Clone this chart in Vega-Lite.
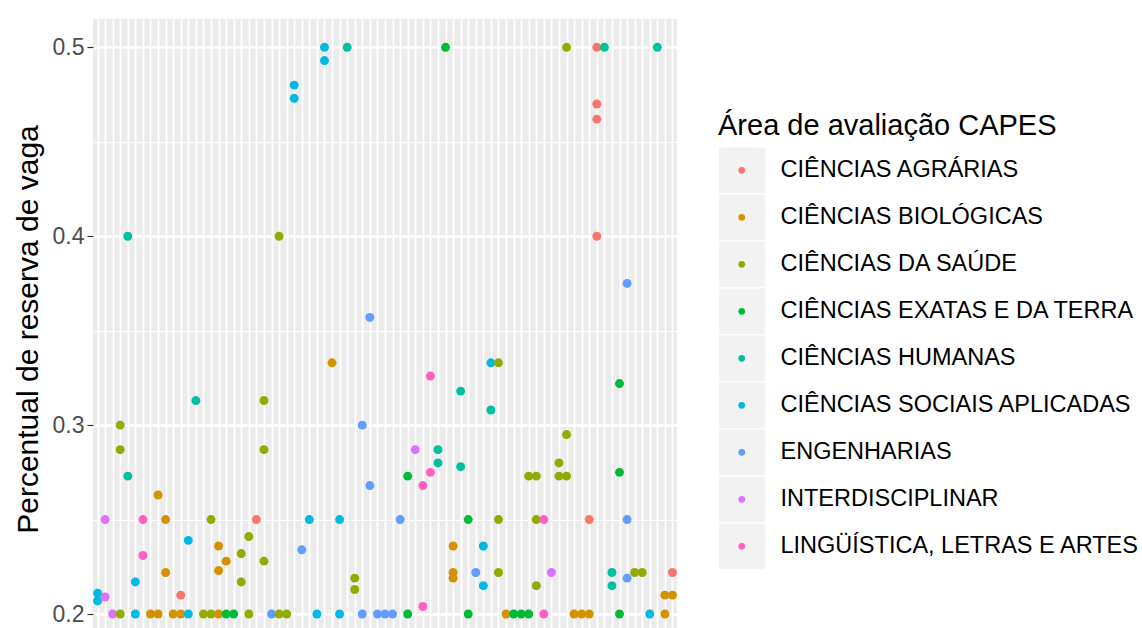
{
  "$schema": "https://vega.github.io/schema/vega-lite/v6.json",
  "width": 584,
  "height": 609,
  "autosize": {"type": "none"},
  "padding": {"left": 93, "top": 19, "right": 465, "bottom": 0},
  "background": "white",
  "config": {
    "view": {"fill": "#EBEBEB", "stroke": null},
    "font": "Liberation Sans",
    "legend": {"padding": 0}
  },
  "datasets": {
    "keys": [
      {"area": "CIÊNCIAS AGRÁRIAS"}, {"area": "CIÊNCIAS BIOLÓGICAS"}, {"area": "CIÊNCIAS DA SAÚDE"},
      {"area": "CIÊNCIAS EXATAS E DA TERRA"}, {"area": "CIÊNCIAS HUMANAS"}, {"area": "CIÊNCIAS SOCIAIS APLICADAS"},
      {"area": "ENGENHARIAS"}, {"area": "INTERDISCIPLINAR"}, {"area": "LINGÜÍSTICA, LETRAS E ARTES"}
    ],
    "pts": [
      {"x": 1, "y": 0.211, "area": "CIÊNCIAS SOCIAIS APLICADAS"},
      {"x": 1, "y": 0.207, "area": "CIÊNCIAS SOCIAIS APLICADAS"},
      {"x": 2, "y": 0.25, "area": "INTERDISCIPLINAR"},
      {"x": 2, "y": 0.209, "area": "INTERDISCIPLINAR"},
      {"x": 3, "y": 0.2, "area": "INTERDISCIPLINAR"},
      {"x": 4, "y": 0.3, "area": "CIÊNCIAS DA SAÚDE"},
      {"x": 4, "y": 0.287, "area": "CIÊNCIAS DA SAÚDE"},
      {"x": 4, "y": 0.2, "area": "CIÊNCIAS DA SAÚDE"},
      {"x": 5, "y": 0.4, "area": "CIÊNCIAS HUMANAS"},
      {"x": 5, "y": 0.273, "area": "CIÊNCIAS HUMANAS"},
      {"x": 6, "y": 0.217, "area": "CIÊNCIAS SOCIAIS APLICADAS"},
      {"x": 6, "y": 0.2, "area": "CIÊNCIAS SOCIAIS APLICADAS"},
      {"x": 7, "y": 0.25, "area": "LINGÜÍSTICA, LETRAS E ARTES"},
      {"x": 7, "y": 0.231, "area": "LINGÜÍSTICA, LETRAS E ARTES"},
      {"x": 8, "y": 0.2, "area": "CIÊNCIAS BIOLÓGICAS"},
      {"x": 9, "y": 0.263, "area": "CIÊNCIAS BIOLÓGICAS"},
      {"x": 9, "y": 0.2, "area": "CIÊNCIAS BIOLÓGICAS"},
      {"x": 10, "y": 0.25, "area": "CIÊNCIAS BIOLÓGICAS"},
      {"x": 10, "y": 0.222, "area": "CIÊNCIAS BIOLÓGICAS"},
      {"x": 11, "y": 0.2, "area": "CIÊNCIAS BIOLÓGICAS"},
      {"x": 12, "y": 0.21, "area": "CIÊNCIAS AGRÁRIAS"},
      {"x": 12, "y": 0.2, "area": "CIÊNCIAS BIOLÓGICAS"},
      {"x": 13, "y": 0.239, "area": "CIÊNCIAS SOCIAIS APLICADAS"},
      {"x": 13, "y": 0.2, "area": "CIÊNCIAS SOCIAIS APLICADAS"},
      {"x": 14, "y": 0.313, "area": "CIÊNCIAS HUMANAS"},
      {"x": 15, "y": 0.2, "area": "CIÊNCIAS DA SAÚDE"},
      {"x": 16, "y": 0.25, "area": "CIÊNCIAS DA SAÚDE"},
      {"x": 16, "y": 0.2, "area": "CIÊNCIAS DA SAÚDE"},
      {"x": 17, "y": 0.236, "area": "CIÊNCIAS BIOLÓGICAS"},
      {"x": 17, "y": 0.223, "area": "CIÊNCIAS BIOLÓGICAS"},
      {"x": 17, "y": 0.2, "area": "CIÊNCIAS BIOLÓGICAS"},
      {"x": 18, "y": 0.228, "area": "CIÊNCIAS BIOLÓGICAS"},
      {"x": 18, "y": 0.2, "area": "CIÊNCIAS EXATAS E DA TERRA"},
      {"x": 19, "y": 0.2, "area": "CIÊNCIAS EXATAS E DA TERRA"},
      {"x": 20, "y": 0.232, "area": "CIÊNCIAS DA SAÚDE"},
      {"x": 20, "y": 0.217, "area": "CIÊNCIAS DA SAÚDE"},
      {"x": 21, "y": 0.241, "area": "CIÊNCIAS DA SAÚDE"},
      {"x": 21, "y": 0.2, "area": "CIÊNCIAS DA SAÚDE"},
      {"x": 22, "y": 0.25, "area": "CIÊNCIAS AGRÁRIAS"},
      {"x": 23, "y": 0.313, "area": "CIÊNCIAS DA SAÚDE"},
      {"x": 23, "y": 0.287, "area": "CIÊNCIAS DA SAÚDE"},
      {"x": 23, "y": 0.228, "area": "CIÊNCIAS DA SAÚDE"},
      {"x": 24, "y": 0.2, "area": "ENGENHARIAS"},
      {"x": 25, "y": 0.4, "area": "CIÊNCIAS DA SAÚDE"},
      {"x": 25, "y": 0.2, "area": "CIÊNCIAS DA SAÚDE"},
      {"x": 26, "y": 0.2, "area": "CIÊNCIAS DA SAÚDE"},
      {"x": 27, "y": 0.48, "area": "CIÊNCIAS SOCIAIS APLICADAS"},
      {"x": 27, "y": 0.473, "area": "CIÊNCIAS SOCIAIS APLICADAS"},
      {"x": 28, "y": 0.234, "area": "ENGENHARIAS"},
      {"x": 29, "y": 0.25, "area": "CIÊNCIAS SOCIAIS APLICADAS"},
      {"x": 30, "y": 0.2, "area": "CIÊNCIAS SOCIAIS APLICADAS"},
      {"x": 31, "y": 0.5, "area": "CIÊNCIAS SOCIAIS APLICADAS"},
      {"x": 31, "y": 0.493, "area": "CIÊNCIAS SOCIAIS APLICADAS"},
      {"x": 32, "y": 0.333, "area": "CIÊNCIAS BIOLÓGICAS"},
      {"x": 33, "y": 0.25, "area": "CIÊNCIAS SOCIAIS APLICADAS"},
      {"x": 33, "y": 0.2, "area": "CIÊNCIAS SOCIAIS APLICADAS"},
      {"x": 34, "y": 0.5, "area": "CIÊNCIAS HUMANAS"},
      {"x": 35, "y": 0.219, "area": "CIÊNCIAS DA SAÚDE"},
      {"x": 35, "y": 0.213, "area": "CIÊNCIAS DA SAÚDE"},
      {"x": 36, "y": 0.3, "area": "ENGENHARIAS"},
      {"x": 36, "y": 0.2, "area": "ENGENHARIAS"},
      {"x": 37, "y": 0.357, "area": "ENGENHARIAS"},
      {"x": 37, "y": 0.268, "area": "ENGENHARIAS"},
      {"x": 38, "y": 0.2, "area": "ENGENHARIAS"},
      {"x": 39, "y": 0.2, "area": "ENGENHARIAS"},
      {"x": 40, "y": 0.2, "area": "ENGENHARIAS"},
      {"x": 41, "y": 0.25, "area": "ENGENHARIAS"},
      {"x": 42, "y": 0.273, "area": "CIÊNCIAS EXATAS E DA TERRA"},
      {"x": 42, "y": 0.2, "area": "CIÊNCIAS EXATAS E DA TERRA"},
      {"x": 43, "y": 0.287, "area": "INTERDISCIPLINAR"},
      {"x": 44, "y": 0.268, "area": "LINGÜÍSTICA, LETRAS E ARTES"},
      {"x": 44, "y": 0.204, "area": "LINGÜÍSTICA, LETRAS E ARTES"},
      {"x": 45, "y": 0.326, "area": "LINGÜÍSTICA, LETRAS E ARTES"},
      {"x": 45, "y": 0.275, "area": "LINGÜÍSTICA, LETRAS E ARTES"},
      {"x": 46, "y": 0.287, "area": "CIÊNCIAS HUMANAS"},
      {"x": 46, "y": 0.28, "area": "CIÊNCIAS HUMANAS"},
      {"x": 47, "y": 0.5, "area": "CIÊNCIAS EXATAS E DA TERRA"},
      {"x": 48, "y": 0.236, "area": "CIÊNCIAS BIOLÓGICAS"},
      {"x": 48, "y": 0.222, "area": "CIÊNCIAS BIOLÓGICAS"},
      {"x": 48, "y": 0.219, "area": "CIÊNCIAS BIOLÓGICAS"},
      {"x": 49, "y": 0.318, "area": "CIÊNCIAS HUMANAS"},
      {"x": 49, "y": 0.278, "area": "CIÊNCIAS HUMANAS"},
      {"x": 50, "y": 0.25, "area": "CIÊNCIAS EXATAS E DA TERRA"},
      {"x": 50, "y": 0.2, "area": "CIÊNCIAS EXATAS E DA TERRA"},
      {"x": 51, "y": 0.222, "area": "ENGENHARIAS"},
      {"x": 52, "y": 0.236, "area": "CIÊNCIAS SOCIAIS APLICADAS"},
      {"x": 52, "y": 0.215, "area": "CIÊNCIAS SOCIAIS APLICADAS"},
      {"x": 53, "y": 0.333, "area": "CIÊNCIAS SOCIAIS APLICADAS"},
      {"x": 53, "y": 0.308, "area": "CIÊNCIAS HUMANAS"},
      {"x": 54, "y": 0.333, "area": "CIÊNCIAS DA SAÚDE"},
      {"x": 54, "y": 0.25, "area": "CIÊNCIAS DA SAÚDE"},
      {"x": 54, "y": 0.222, "area": "CIÊNCIAS DA SAÚDE"},
      {"x": 55, "y": 0.2, "area": "CIÊNCIAS BIOLÓGICAS"},
      {"x": 56, "y": 0.2, "area": "CIÊNCIAS EXATAS E DA TERRA"},
      {"x": 57, "y": 0.2, "area": "CIÊNCIAS EXATAS E DA TERRA"},
      {"x": 58, "y": 0.273, "area": "CIÊNCIAS DA SAÚDE"},
      {"x": 58, "y": 0.2, "area": "CIÊNCIAS EXATAS E DA TERRA"},
      {"x": 59, "y": 0.273, "area": "CIÊNCIAS DA SAÚDE"},
      {"x": 59, "y": 0.25, "area": "CIÊNCIAS DA SAÚDE"},
      {"x": 59, "y": 0.215, "area": "CIÊNCIAS DA SAÚDE"},
      {"x": 60, "y": 0.25, "area": "LINGÜÍSTICA, LETRAS E ARTES"},
      {"x": 60, "y": 0.2, "area": "LINGÜÍSTICA, LETRAS E ARTES"},
      {"x": 61, "y": 0.222, "area": "INTERDISCIPLINAR"},
      {"x": 62, "y": 0.28, "area": "CIÊNCIAS DA SAÚDE"},
      {"x": 62, "y": 0.273, "area": "CIÊNCIAS DA SAÚDE"},
      {"x": 63, "y": 0.5, "area": "CIÊNCIAS DA SAÚDE"},
      {"x": 63, "y": 0.295, "area": "CIÊNCIAS DA SAÚDE"},
      {"x": 63, "y": 0.273, "area": "CIÊNCIAS DA SAÚDE"},
      {"x": 64, "y": 0.2, "area": "CIÊNCIAS BIOLÓGICAS"},
      {"x": 65, "y": 0.2, "area": "CIÊNCIAS BIOLÓGICAS"},
      {"x": 66, "y": 0.25, "area": "CIÊNCIAS AGRÁRIAS"},
      {"x": 66, "y": 0.2, "area": "CIÊNCIAS BIOLÓGICAS"},
      {"x": 67, "y": 0.5, "area": "CIÊNCIAS AGRÁRIAS"},
      {"x": 67, "y": 0.47, "area": "CIÊNCIAS AGRÁRIAS"},
      {"x": 67, "y": 0.462, "area": "CIÊNCIAS AGRÁRIAS"},
      {"x": 67, "y": 0.4, "area": "CIÊNCIAS AGRÁRIAS"},
      {"x": 68, "y": 0.5, "area": "CIÊNCIAS HUMANAS"},
      {"x": 69, "y": 0.222, "area": "CIÊNCIAS HUMANAS"},
      {"x": 69, "y": 0.215, "area": "CIÊNCIAS HUMANAS"},
      {"x": 70, "y": 0.322, "area": "CIÊNCIAS EXATAS E DA TERRA"},
      {"x": 70, "y": 0.275, "area": "CIÊNCIAS EXATAS E DA TERRA"},
      {"x": 70, "y": 0.2, "area": "CIÊNCIAS EXATAS E DA TERRA"},
      {"x": 71, "y": 0.375, "area": "ENGENHARIAS"},
      {"x": 71, "y": 0.25, "area": "ENGENHARIAS"},
      {"x": 71, "y": 0.219, "area": "ENGENHARIAS"},
      {"x": 72, "y": 0.222, "area": "CIÊNCIAS DA SAÚDE"},
      {"x": 73, "y": 0.222, "area": "CIÊNCIAS DA SAÚDE"},
      {"x": 74, "y": 0.2, "area": "CIÊNCIAS SOCIAIS APLICADAS"},
      {"x": 75, "y": 0.5, "area": "CIÊNCIAS HUMANAS"},
      {"x": 76, "y": 0.21, "area": "CIÊNCIAS BIOLÓGICAS"},
      {"x": 76, "y": 0.2, "area": "CIÊNCIAS BIOLÓGICAS"},
      {"x": 77, "y": 0.222, "area": "CIÊNCIAS AGRÁRIAS"},
      {"x": 77, "y": 0.21, "area": "CIÊNCIAS BIOLÓGICAS"}
    ]
  },
  "layer": [
    {
      "data": {"name": "keys"},
      "mark": {"type": "square", "opacity": 0},
      "encoding": {
        "fill": {
          "field": "area", "type": "nominal",
          "scale": {"range": ["#F2F2F2", "#F2F2F2", "#F2F2F2", "#F2F2F2", "#F2F2F2", "#F2F2F2", "#F2F2F2", "#F2F2F2", "#F2F2F2"]},
          "legend": {
            "orient": "none", "legendX": 625, "legendY": 93,
            "title": "Área de avaliação CAPES", "titleOpacity": 0, "titleFontSize": 29, "titleFontWeight": "normal", "titlePadding": 6, "titleLimit": 600,
            "symbolType": "square", "symbolSize": 2172, "symbolOpacity": 1, "symbolStrokeColor": "white", "symbolStrokeWidth": 1,
            "clipHeight": 46.6, "rowPadding": 0, "labelExpr": "''", "labelFontSize": 23, "zindex": 0
          }
        }
      }
    },
    {
      "data": {"name": "pts"},
      "mark": {"type": "circle", "opacity": 1, "size": 80},
      "encoding": {
        "x": {
          "field": "x", "type": "ordinal",
          "scale": {"type": "point", "padding": 0.6, "domain": [1,2,3,4,5,6,7,8,9,10,11,12,13,14,15,16,17,18,19,20,21,22,23,24,25,26,27,28,29,30,31,32,33,34,35,36,37,38,39,40,41,42,43,44,45,46,47,48,49,50,51,52,53,54,55,56,57,58,59,60,61,62,63,64,65,66,67,68,69,70,71,72,73,74,75,76,77]},
          "axis": {"labels": false, "ticks": false, "domain": false, "title": null, "grid": true, "gridColor": "white", "gridWidth": 1.8}
        },
        "y": {
          "field": "y", "type": "quantitative",
          "scale": {"domain": [0.1926, 0.515], "nice": false, "zero": false},
          "axis": {
            "values": [0.2, 0.25, 0.3, 0.35, 0.4, 0.45, 0.5],
            "labelExpr": "round(datum.value*100) % 10 == 0 ? format(datum.value, '.1f') : ''",
            "grid": true, "gridColor": "white",
            "gridWidth": {"condition": {"test": "round(datum.value*100) % 10 != 0", "value": 1.2}, "value": 2.4},
            "tickOpacity": {"condition": {"test": "round(datum.value*100) % 10 != 0", "value": 0}, "value": 1},
            "tickColor": "#333333", "tickSize": 6, "tickWidth": 1.2,
            "domain": false,
            "labelFontSize": 23, "labelColor": "#4D4D4D", "labelPadding": 3,
            "title": "Percentual de reserva de vaga", "titleFontSize": 30, "titleFontWeight": "normal", "titleColor": "black", "titlePadding": 9, "titleY": 310, "titleLimit": 700
          }
        },
        "color": {
          "field": "area", "type": "nominal",
          "scale": {
            "domain": ["CIÊNCIAS AGRÁRIAS", "CIÊNCIAS BIOLÓGICAS", "CIÊNCIAS DA SAÚDE", "CIÊNCIAS EXATAS E DA TERRA", "CIÊNCIAS HUMANAS", "CIÊNCIAS SOCIAIS APLICADAS", "ENGENHARIAS", "INTERDISCIPLINAR", "LINGÜÍSTICA, LETRAS E ARTES"],
            "range": ["#F8766D", "#D39200", "#93AA00", "#00BA38", "#00C19F", "#00B9E3", "#619CFF", "#DB72FB", "#FF61C3"]
          },
          "legend": {
            "orient": "none", "legendX": 625, "legendY": 93,
            "title": "Área de avaliação CAPES", "titleFontSize": 29, "titleFontWeight": "normal", "titleColor": "black", "titlePadding": 6, "titleLimit": 600,
            "symbolType": "circle", "symbolSize": 45, "symbolOpacity": 1, "symbolStrokeWidth": 0, "symbolOffset": 12,
            "clipHeight": 46.6, "rowPadding": 0, "labelFontSize": 23.5, "labelColor": "black", "labelOffset": 27, "labelLimit": 600, "zindex": 1
          }
        }
      }
    }
  ]
}
